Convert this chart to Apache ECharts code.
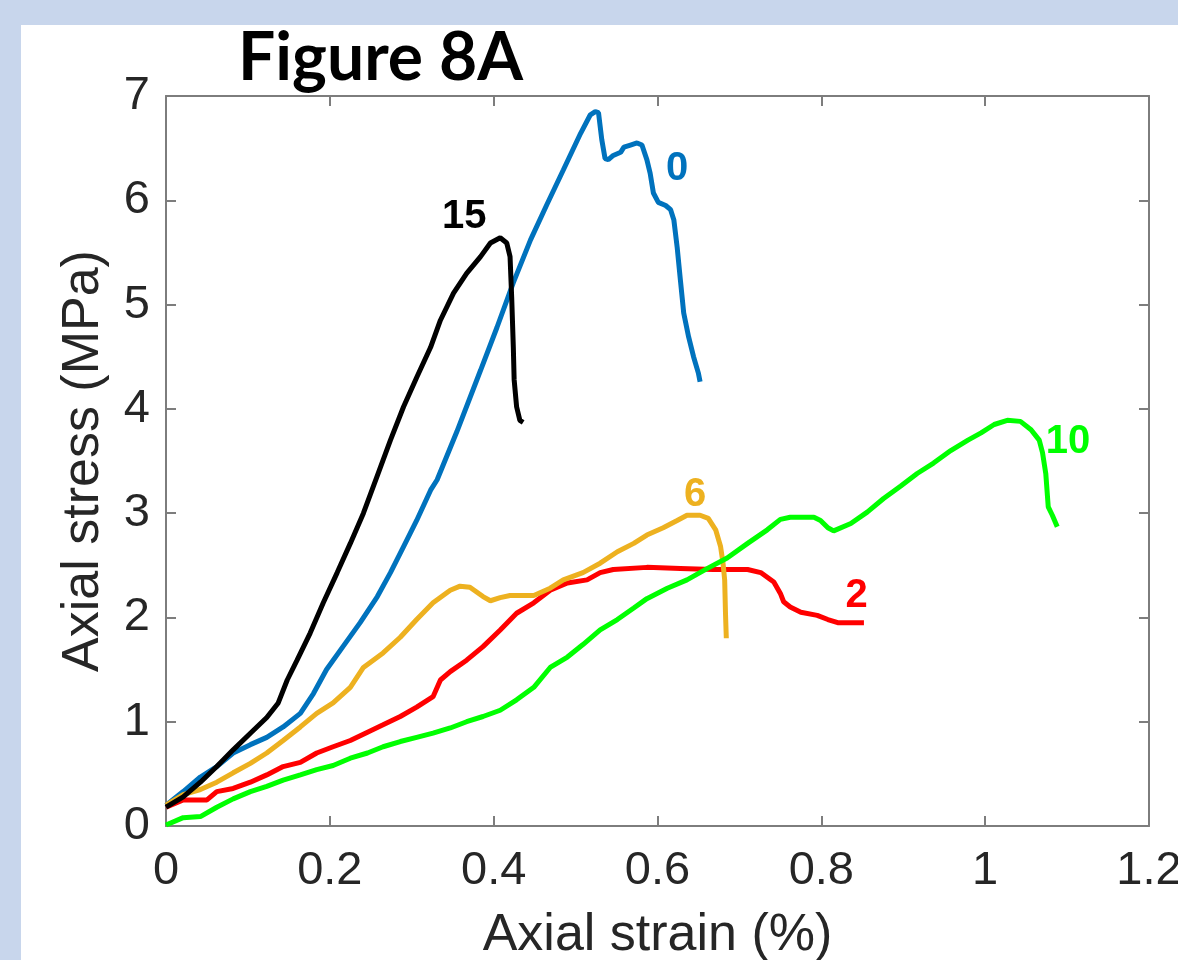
<!DOCTYPE html>
<html>
<head>
<meta charset="utf-8">
<script src="https://cdn.jsdelivr.net/npm/echarts@6/dist/echarts.min.js"></script>
<style>
  html, body { margin: 0; padding: 0; background: #c8d6ec; overflow: hidden; }
  #chart { width: 1178px; height: 960px; }
</style>
</head>
<body>
<div id="chart"></div>
<script>
// axis ticks
const strainTicks = [0, 0.2, 0.4, 0.6, 0.8, 1, 1.2];
const stressTicks = [0, 1, 2, 3, 4, 5, 6, 7];

// curves: [axial strain %, axial stress MPa]
const curve0 = [
  [0, 0.20], [0.021, 0.33], [0.042, 0.47], [0.062, 0.57], [0.082, 0.70], [0.103, 0.78],
  [0.123, 0.85], [0.143, 0.95], [0.164, 1.08], [0.180, 1.27], [0.196, 1.50], [0.216, 1.72],
  [0.237, 1.95], [0.258, 2.20], [0.274, 2.43], [0.290, 2.68], [0.306, 2.93], [0.323, 3.22],
  [0.331, 3.32], [0.355, 3.78], [0.384, 4.37], [0.404, 4.78], [0.424, 5.21], [0.445, 5.62],
  [0.465, 5.96], [0.485, 6.29], [0.506, 6.64], [0.518, 6.82], [0.524, 6.85], [0.528, 6.84],
  [0.532, 6.58], [0.536, 6.40], [0.540, 6.39], [0.546, 6.43], [0.555, 6.46], [0.559, 6.51],
  [0.567, 6.53], [0.575, 6.55], [0.581, 6.53], [0.587, 6.39], [0.591, 6.26], [0.595, 6.07],
  [0.601, 5.98], [0.610, 5.95], [0.616, 5.91], [0.620, 5.81], [0.624, 5.55], [0.628, 5.23],
  [0.632, 4.92], [0.638, 4.69], [0.644, 4.50], [0.650, 4.34], [0.652, 4.26]
];
const curve2 = [
  [0, 0.18], [0.021, 0.25], [0.050, 0.25], [0.062, 0.33], [0.082, 0.36], [0.103, 0.42],
  [0.123, 0.49], [0.143, 0.57], [0.164, 0.61], [0.184, 0.70], [0.204, 0.76], [0.225, 0.82],
  [0.246, 0.90], [0.265, 0.97], [0.286, 1.05], [0.306, 1.14], [0.326, 1.24], [0.335, 1.40],
  [0.347, 1.48], [0.367, 1.59], [0.387, 1.72], [0.408, 1.88], [0.428, 2.04], [0.449, 2.14],
  [0.469, 2.26], [0.490, 2.33], [0.514, 2.36], [0.530, 2.43], [0.546, 2.46], [0.587, 2.48],
  [0.628, 2.47], [0.668, 2.46], [0.710, 2.46], [0.726, 2.43], [0.742, 2.34], [0.750, 2.23],
  [0.754, 2.15], [0.762, 2.10], [0.775, 2.05], [0.795, 2.02], [0.808, 1.98], [0.820, 1.95],
  [0.852, 1.95]
];
const curve6 = [
  [0, 0.20], [0.021, 0.30], [0.042, 0.35], [0.062, 0.42], [0.082, 0.51], [0.103, 0.60],
  [0.123, 0.70], [0.143, 0.82], [0.164, 0.95], [0.184, 1.08], [0.204, 1.18], [0.225, 1.33],
  [0.241, 1.52], [0.265, 1.66], [0.286, 1.81], [0.306, 1.98], [0.326, 2.14], [0.347, 2.26],
  [0.359, 2.30], [0.371, 2.29], [0.387, 2.20], [0.396, 2.16], [0.408, 2.19], [0.420, 2.21],
  [0.449, 2.21], [0.469, 2.28], [0.485, 2.36], [0.509, 2.43], [0.530, 2.52], [0.551, 2.63],
  [0.571, 2.71], [0.587, 2.79], [0.607, 2.86], [0.624, 2.93], [0.636, 2.98], [0.652, 2.98],
  [0.662, 2.95], [0.671, 2.84], [0.677, 2.68], [0.680, 2.52], [0.682, 2.36], [0.683, 2.04],
  [0.684, 1.80]
];
const curve10 = [
  [0, 0.01], [0.021, 0.08], [0.042, 0.09], [0.062, 0.18], [0.082, 0.26], [0.103, 0.33],
  [0.123, 0.38], [0.143, 0.44], [0.164, 0.49], [0.184, 0.54], [0.204, 0.58], [0.225, 0.65],
  [0.246, 0.70], [0.265, 0.76], [0.286, 0.81], [0.306, 0.85], [0.326, 0.89], [0.347, 0.94],
  [0.367, 1.00], [0.387, 1.05], [0.408, 1.11], [0.428, 1.21], [0.449, 1.33], [0.469, 1.52],
  [0.490, 1.62], [0.509, 1.74], [0.530, 1.88], [0.551, 1.98], [0.571, 2.09], [0.587, 2.18],
  [0.612, 2.28], [0.636, 2.36], [0.661, 2.47], [0.685, 2.57], [0.710, 2.71], [0.734, 2.84],
  [0.750, 2.94], [0.762, 2.96], [0.791, 2.96], [0.799, 2.93], [0.808, 2.86], [0.815, 2.83],
  [0.836, 2.90], [0.856, 3.01], [0.876, 3.14], [0.897, 3.26], [0.917, 3.38], [0.937, 3.48],
  [0.958, 3.60], [0.979, 3.70], [0.995, 3.77], [1.011, 3.85], [1.027, 3.89], [1.043, 3.88],
  [1.056, 3.80], [1.066, 3.70], [1.070, 3.58], [1.074, 3.38], [1.077, 3.06], [1.082, 2.98],
  [1.088, 2.87]
];
const curve15 = [
  [0, 0.18], [0.021, 0.28], [0.042, 0.42], [0.062, 0.57], [0.082, 0.73], [0.103, 0.89],
  [0.123, 1.04], [0.137, 1.18], [0.148, 1.40], [0.160, 1.59], [0.176, 1.85], [0.192, 2.14],
  [0.209, 2.43], [0.225, 2.71], [0.241, 3.00], [0.258, 3.36], [0.274, 3.70], [0.290, 4.02],
  [0.306, 4.30], [0.323, 4.59], [0.335, 4.85], [0.351, 5.11], [0.367, 5.30], [0.384, 5.46],
  [0.396, 5.59], [0.408, 5.64], [0.416, 5.59], [0.420, 5.46], [0.422, 5.07], [0.424, 4.59],
  [0.425, 4.28], [0.428, 4.02], [0.432, 3.89], [0.436, 3.87]
];

// curve names and where they are written
const curveNames = ['0', '2', '6', '10', '15'];
const curveColors = ['#0072bd', '#ff0000', '#edb120', '#00ff00', '#000000'];
const nameSpots = [[0.624, 6.30], [0.843, 2.21], [0.646, 3.17], [1.101, 3.68], [0.364, 5.84]];

const curves = [curve0, curve2, curve6, curve10, curve15];

const chart = echarts.init(document.getElementById('chart'), null, { renderer: 'canvas' });

const axisGray = '#7d7d7d';
const tickFont = 'Liberation Sans';

const lineSeries = curves.map((c, i) => ({
  type: 'line',
  name: curveNames[i],
  data: c,
  showSymbol: false,
  symbol: 'none',
  lineStyle: { color: curveColors[i], width: 5 },
  z: 3
}));

const labelSeries = curveNames.map((n, i) => ({
  type: 'scatter',
  data: [nameSpots[i]],
  symbolSize: 0,
  silent: true,
  itemStyle: { opacity: 1 },
  label: {
    show: true,
    position: 'inside',
    formatter: n,
    color: curveColors[i],
    fontFamily: tickFont,
    fontWeight: 'bold',
    fontSize: 40
  },
  z: 4
}));

// inner ticks + box on all four sides, like the original figure
const boxAxis = {
  axisLine: { show: true, onZero: false, lineStyle: { color: axisGray, width: 2 } },
  axisTick: { show: true, inside: true, length: 10, lineStyle: { color: axisGray, width: 2 } },
  splitLine: { show: false }
};

const option = {
  animation: false,
  backgroundColor: '#c8d6ec',
  graphic: [
    {
      type: 'rect',
      left: 21, top: 25,
      shape: { width: 1157, height: 935 },
      style: { fill: '#ffffff' },
      z: -10
    }
  ],
  title: {
    text: 'Figure 8A',
    left: 233,
    top: 21,
    textStyle: { fontFamily: 'Lato', fontWeight: 'bold', fontSize: 66, color: '#000' }
  },
  grid: { left: 166, right: 29, top: 96, bottom: 134, outerBoundsMode: 'none', containLabel: false },
  xAxis: [
    Object.assign({
      type: 'value', min: 0, max: 1.2, interval: 0.2,
      name: 'Axial strain (%)', nameLocation: 'middle', nameGap: 84,
      nameTextStyle: { fontFamily: tickFont, fontSize: 52, color: '#262626' },
      axisLabel: { margin: 22, fontFamily: tickFont, fontSize: 47, color: '#262626',
        formatter: v => String(+v.toFixed(1)) }
    }, boxAxis),
    Object.assign({
      type: 'value', min: 0, max: 1.2, interval: 0.2, position: 'top',
      axisLabel: { show: false }
    }, boxAxis)
  ],
  yAxis: [
    Object.assign({
      type: 'value', min: 0, max: 7, interval: 1,
      name: 'Axial stress (MPa)', nameLocation: 'middle', nameGap: 56,
      nameTextStyle: { fontFamily: tickFont, fontSize: 52, color: '#262626' },
      axisLabel: { margin: 16, fontFamily: tickFont, fontSize: 47, color: '#262626' }
    }, boxAxis),
    Object.assign({
      type: 'value', min: 0, max: 7, interval: 1, position: 'right',
      axisLabel: { show: false }
    }, boxAxis)
  ],
  series: lineSeries.concat(labelSeries)
};

chart.setOption(option);
</script>
</body>
</html>
